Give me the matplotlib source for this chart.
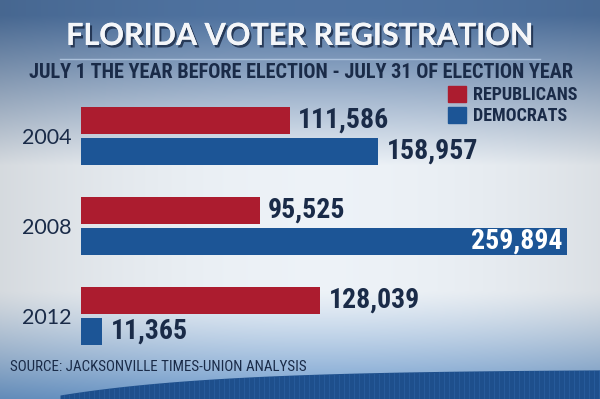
import numpy as np
import matplotlib
matplotlib.use("Agg")
import matplotlib.pyplot as plt
import matplotlib.patheffects as pe
from matplotlib.patches import Rectangle
from matplotlib import font_manager as fm

# ---- data ----
years = ["2004", "2008", "2012"]
republicans = [111586, 95525, 128039]
democrats = [158957, 259894, 11365]
series_names = ["REPUBLICANS", "DEMOCRATS"]
title = "FLORIDA VOTER REGISTRATION"
subtitle = "JULY 1 THE YEAR BEFORE ELECTION - JULY 31 OF ELECTION YEAR"
source = "SOURCE: JACKSONVILLE TIMES-UNION ANALYSIS"

RED = "#ac1c2f"
BLUE = "#1c5596"
NAVY = "#1a2b48"

names = {f.name for f in fm.fontManager.ttflist}
cand = ["Liberation Sans Narrow", "Roboto Condensed", "Open Sans Condensed", "DejaVu Sans Condensed"]
NARROW = [c for c in cand if c in names] + ["DejaVu Sans"]
STRETCH = "condensed"

W, H = 600, 399
fig = plt.figure(figsize=(W / 100, H / 100), dpi=100)

# ---- background (pixel coordinate axes) ----
bg = fig.add_axes([0, 0, 1, 1])
bg.set_xlim(0, W)
bg.set_ylim(H, 0)
bg.axis("off")
yy, xx = np.mgrid[0:H, 0:W].astype(float)
top_c = np.array([0.31, 0.45, 0.63])
mid_c = np.array([0.93, 0.95, 0.97])
bot_c = np.array([0.42, 0.60, 0.80])
v1 = np.clip((yy - 15) / 150.0, 0, 1)
v2 = np.clip((yy - 290) / 110.0, 0, 1)
img = top_c * (1 - v1[..., None]) + mid_c * v1[..., None]
img = img * (1 - v2[..., None] ** 1.2) + bot_c * (v2[..., None] ** 1.2)
hx = np.abs(xx - 320) / 320.0
img = img * (1 - 0.10 * hx[..., None] ** 2)
bg.imshow(np.clip(img, 0, 1), extent=[0, W, H, 0], aspect="auto", zorder=0)

# bottom wave
wx = np.linspace(60, W, 200)
wtop = 395 - 26 * (1 - np.exp(-(wx - 60) / 160.0))
bg.fill_between(wx, wtop, H, color="#1e4f8c", zorder=1, lw=0)
for sx in np.arange(64, W, 5):
    top = 395 - 26 * (1 - np.exp(-(sx - 60) / 160.0))
    bg.plot([sx, sx], [top + 1, H], color="#2d63a4", lw=0.8, alpha=0.6, zorder=1.5)

# title line
bg.plot([60, 540], [59, 59], color="#b8cde6", lw=1.0, alpha=0.8, zorder=2)

bg.text(300, 36, title, ha="center", va="center", color="#f4f6f9",
        fontsize=22, fontweight="bold", family=["Lato", "DejaVu Sans"], zorder=3,
        path_effects=[pe.withSimplePatchShadow(offset=(1.5, -1.8), shadow_rgbFace="#13223d", alpha=0.75),
                      pe.Normal()])
bg.text(301, 72, subtitle, ha="center", va="center", color=NAVY,
        fontsize=14.6, fontweight="bold", family=NARROW, fontstretch=STRETCH, zorder=3)
bg.text(10, 367, source, ha="left", va="center", color=NAVY,
        fontsize=10.8, family=NARROW, fontstretch=STRETCH, zorder=3)

# legend
bg.add_patch(Rectangle((448, 86), 18, 16, color=RED, zorder=3))
bg.add_patch(Rectangle((448, 107), 18, 16, color=BLUE, zorder=3))
bg.text(473, 95, series_names[0], ha="left", va="center", color=NAVY,
        fontsize=13, fontweight="bold", family=NARROW, fontstretch=STRETCH, zorder=3)
bg.text(473, 116, series_names[1], ha="left", va="center", color=NAVY,
        fontsize=13, fontweight="bold", family=NARROW, fontstretch=STRETCH, zorder=3)

# ---- bars ----
ax = fig.add_axes([81 / W, 1 - 361 / H, (567 - 81) / W, 270 / H])
ax.patch.set_alpha(0)
for s in ax.spines.values():
    s.set_visible(False)
ax.set_xlim(0, max(democrats))
ax.set_ylim(2.5, -0.5)
ypos = np.arange(len(years))
off, hgt = 0.172, 0.30
ax.barh(ypos - off, republicans, height=hgt, color=RED, zorder=3)
ax.barh(ypos + off, democrats, height=hgt, color=BLUE, zorder=3)
ax.set_xticks([])
ax.set_yticks(ypos)
ax.set_yticklabels(years, fontsize=15.5, color=NAVY, family=["Lato", "DejaVu Sans"], fontweight="normal")
ax.tick_params(axis="y", length=0, pad=7)

vmax = max(democrats)
for i in range(len(years)):
    for val, yv in ((republicans[i], i - off), (democrats[i], i + off)):
        lab = f"{val:,}"
        if val == vmax:
            ax.annotate(lab, (val, yv), xytext=(-3, 0), textcoords="offset points",
                        ha="right", va="center", color="white", fontsize=20,
                        fontweight="bold", family=NARROW, fontstretch=STRETCH, zorder=4)
        else:
            ax.annotate(lab, (val, yv), xytext=(6, 0), textcoords="offset points",
                        ha="left", va="center", color=NAVY, fontsize=20,
                        fontweight="bold", family=NARROW, fontstretch=STRETCH, zorder=4,
                        annotation_clip=False)

fig.savefig("out.png", dpi=100)
